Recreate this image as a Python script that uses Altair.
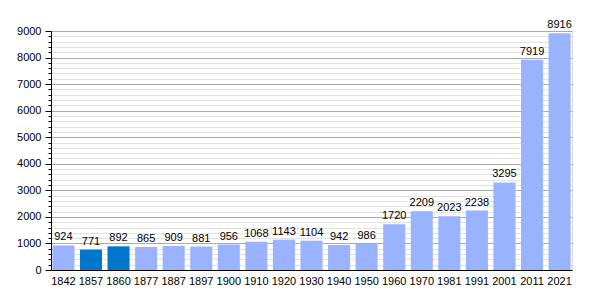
import altair as alt
import pandas as pd

years = ["1842", "1857", "1860", "1877", "1887", "1897", "1900", "1910", "1920", "1930",
         "1940", "1950", "1960", "1970", "1981", "1991", "2001", "2011", "2021"]
values = [924, 771, 892, 865, 909, 881, 956, 1068, 1143, 1104,
          942, 986, 1720, 2209, 2023, 2238, 3295, 7919, 8916]
highlight = ["1857", "1860"]

major_ticks = list(range(0, 9001, 1000))
minor_ticks = [v for v in range(0, 9001, 200) if v % 1000 != 0]

df = pd.DataFrame({"year": years, "pop": values})
df["kind"] = ["dark" if y in highlight else "light" for y in years]

FONT = "Liberation Sans"

xenc = alt.X("year:N", sort=years, title=None,
             scale=alt.Scale(paddingInner=0.2, paddingOuter=0.05),
             axis=alt.Axis(labelAngle=0, ticks=False, domainColor="black",
                           labelFont=FONT, labelFontSize=11, labelColor="black",
                           labelPadding=5, grid=False))
yscale = alt.Scale(domain=[0, 9000], nice=False)

base = alt.Chart(df)

minor = base.mark_bar(opacity=0).encode(
    x=xenc,
    y=alt.Y("pop:Q", scale=yscale, title=None,
            axis=alt.Axis(orient="left", values=minor_ticks, labels=False, tickSize=3,
                          tickColor="black", domain=False, grid=True, gridColor="#e2e2e2",
                          gridWidth=1)),
)

bars = base.mark_bar().encode(
    x=xenc,
    y=alt.Y("pop:Q", scale=yscale, title=None,
            axis=alt.Axis(orient="left", values=major_ticks, tickSize=6, tickColor="black",
                          domainColor="black", grid=True, gridColor="#aaaaaa", format="d",
                          labelFont=FONT, labelFontSize=11, labelColor="black",
                          labelPadding=4)),
    color=alt.Color("kind:N", scale=alt.Scale(domain=["light", "dark"],
                                              range=["#99b3ff", "#0077cc"]), legend=None),
)

labels = base.mark_text(baseline="bottom", dy=-3, font=FONT, fontSize=11, color="black").encode(
    x=xenc,
    y=alt.Y("pop:Q", scale=yscale, axis=None),
    text=alt.Text("pop:Q", format="d"),
)

chart = alt.layer(minor, bars, labels).resolve_axis(y="independent").properties(
    width=521, height=239,
    autosize=alt.AutoSizeParams(type="none"),
    padding={"left": 51, "top": 31, "right": 28, "bottom": 30},
).configure_view(stroke=None).configure(background="white")

chart.save("out.html", embed_options={"renderer": "svg", "actions": False})
